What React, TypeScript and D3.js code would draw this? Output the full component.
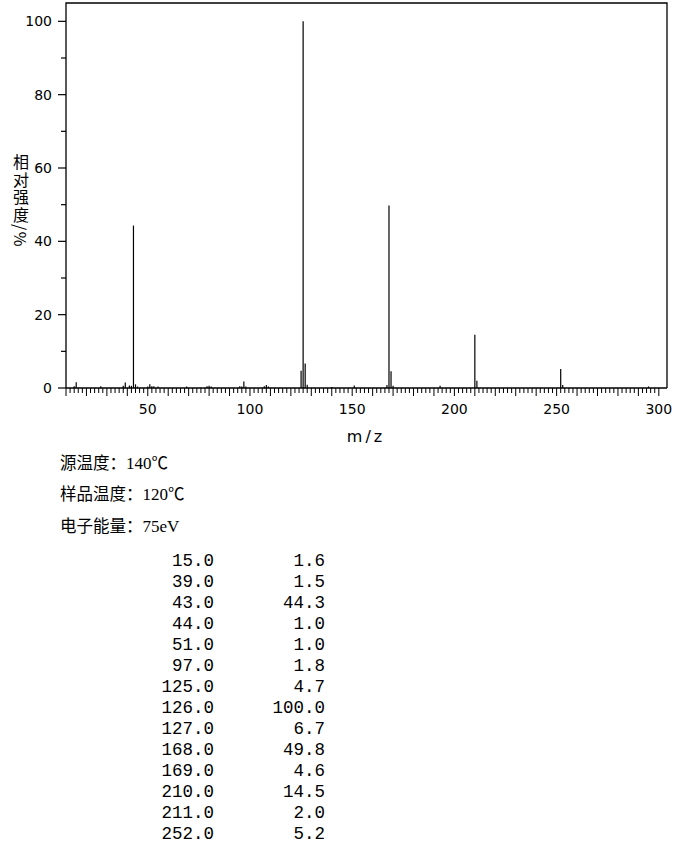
import React from "react";
import * as d3 from "d3";

// Listed peaks (table)
const tableMz = [15, 39, 43, 44, 51, 97, 125, 126, 127, 168, 169, 210, 211, 252];
const tableIntensity = [1.6, 1.5, 44.3, 1.0, 1.0, 1.8, 4.7, 100.0, 6.7, 49.8, 4.6, 14.5, 2.0, 5.2];

// Minor peaks visible in the spectrum but not listed
const minorMz = [14, 27, 38, 41, 42, 45, 50, 52, 53, 55, 69, 79, 80, 81, 95, 96, 98, 107, 108, 109, 128, 140, 151, 167, 170, 193, 253, 295];
const minorIntensity = [0.5, 0.5, 0.6, 0.7, 0.6, 0.4, 0.4, 0.5, 0.5, 0.4, 0.4, 0.5, 0.6, 0.4, 0.5, 0.4, 0.4, 0.5, 0.8, 0.4, 0.9, 0.3, 0.7, 0.8, 0.6, 0.6, 0.8, 0.4];

const yTickValues = [0, 20, 40, 60, 80, 100];
const yMinorTickValues = [10, 30, 50, 70, 90];
const xLabelValues = [50, 100, 150, 200, 250, 300];

const infoLabels = ["源温度：", "样品温度：", "电子能量："];
const infoValues = ["140", "120", "75eV"];
const infoUnits = ["℃", "℃", ""];
const yLabel = "相对强度/%";

export default function App() {
  const left = 66, right = 667, top = 3, bottom = 388;
  const x = d3.scaleLinear().domain([10, 304]).range([left, right]);
  const y = d3.scaleLinear().domain([0, 105]).range([bottom, top]);

  const xTicks = d3.range(10, 301, 2);
  const peaks = [
    ...minorMz.map((m, i) => ({ m, v: minorIntensity[i] })),
    ...tableMz.map((m, i) => ({ m, v: tableIntensity[i] })),
  ];

  const sans = "'DejaVu Sans', sans-serif";
  const cjk = "'Noto Sans CJK SC', sans-serif";
  const serif = "'Liberation Serif', serif";
  const mono = "'Liberation Mono', 'DejaVu Sans Mono', monospace";

  return (
    <svg width={680} height={850} style={{ position: "absolute", left: 0, top: 0, background: "#fff" }}>
      <rect x={0} y={0} width={680} height={850} fill="#fff" />
      {/* frame */}
      <path d={`M${left},${bottom}V${top}H${right}V${bottom}`} fill="none" stroke="#000" strokeWidth={1.3} />
      <line x1={left} x2={right} y1={bottom} y2={bottom} stroke="#000" strokeWidth={1.3} />
      {/* y ticks */}
      {yTickValues.map((v) => (
        <g key={"y" + v}>
          <line x1={left - 8} x2={left} y1={y(v)} y2={y(v)} stroke="#000" strokeWidth={1.2} />
          <text x={52} y={y(v)} dy="0.36em" textAnchor="end" fontFamily={sans} fontSize={14} fill="#000">{v}</text>
        </g>
      ))}
      {yMinorTickValues.map((v) => (
        <line key={"ym" + v} x1={left - 5} x2={left} y1={y(v)} y2={y(v)} stroke="#000" strokeWidth={1.2} />
      ))}
      {/* x ticks */}
      {xTicks.map((t) => (
        <line key={"x" + t} x1={x(t)} x2={x(t)} y1={bottom} y2={bottom + (t % 10 === 0 ? 8 : 5)} stroke="#000" strokeWidth={1} />
      ))}
      {xLabelValues.map((t) => (
        <text key={"xl" + t} x={x(t)} y={409} dy="0.36em" textAnchor="middle" fontFamily={sans} fontSize={14} fill="#000">{t}</text>
      ))}
      <text x={366} y={436} dy="0.36em" textAnchor="middle" fontFamily={sans} fontSize={16} letterSpacing={3} fill="#000">m/z</text>
      {/* y label, vertical */}
      <text x={21} y={154} fontFamily={cjk} fontSize={16} letterSpacing={1.5} fill="#000" style={{ writingMode: "vertical-rl" }}>{yLabel}</text>
      {/* peaks */}
      {peaks.map((p, i) => (
        <line key={"p" + i} x1={x(p.m)} x2={x(p.m)} y1={bottom} y2={y(p.v)} stroke="#000" strokeWidth={1.2} />
      ))}
      {/* info */}
      {infoLabels.map((s, i) => (
        <text key={s} x={60} y={463 + i * 31.5} dy="0.36em" fontFamily={cjk} fontSize={16.5} fill="#000">
          {s}
          <tspan fontFamily={serif} fontSize={17}>{infoValues[i]}</tspan>
          {infoUnits[i] && <tspan fontFamily={cjk}>{infoUnits[i]}</tspan>}
        </text>
      ))}
      {/* table */}
      {tableMz.map((m, i) => (
        <g key={"t" + m}>
          <text x={214} y={560 + i * 21} dy="0.36em" textAnchor="end" fontFamily={mono} fontSize={17.5} fill="#000">{m.toFixed(1)}</text>
          <text x={325} y={560 + i * 21} dy="0.36em" textAnchor="end" fontFamily={mono} fontSize={17.5} fill="#000">{tableIntensity[i].toFixed(1)}</text>
        </g>
      ))}
    </svg>
  );
}
